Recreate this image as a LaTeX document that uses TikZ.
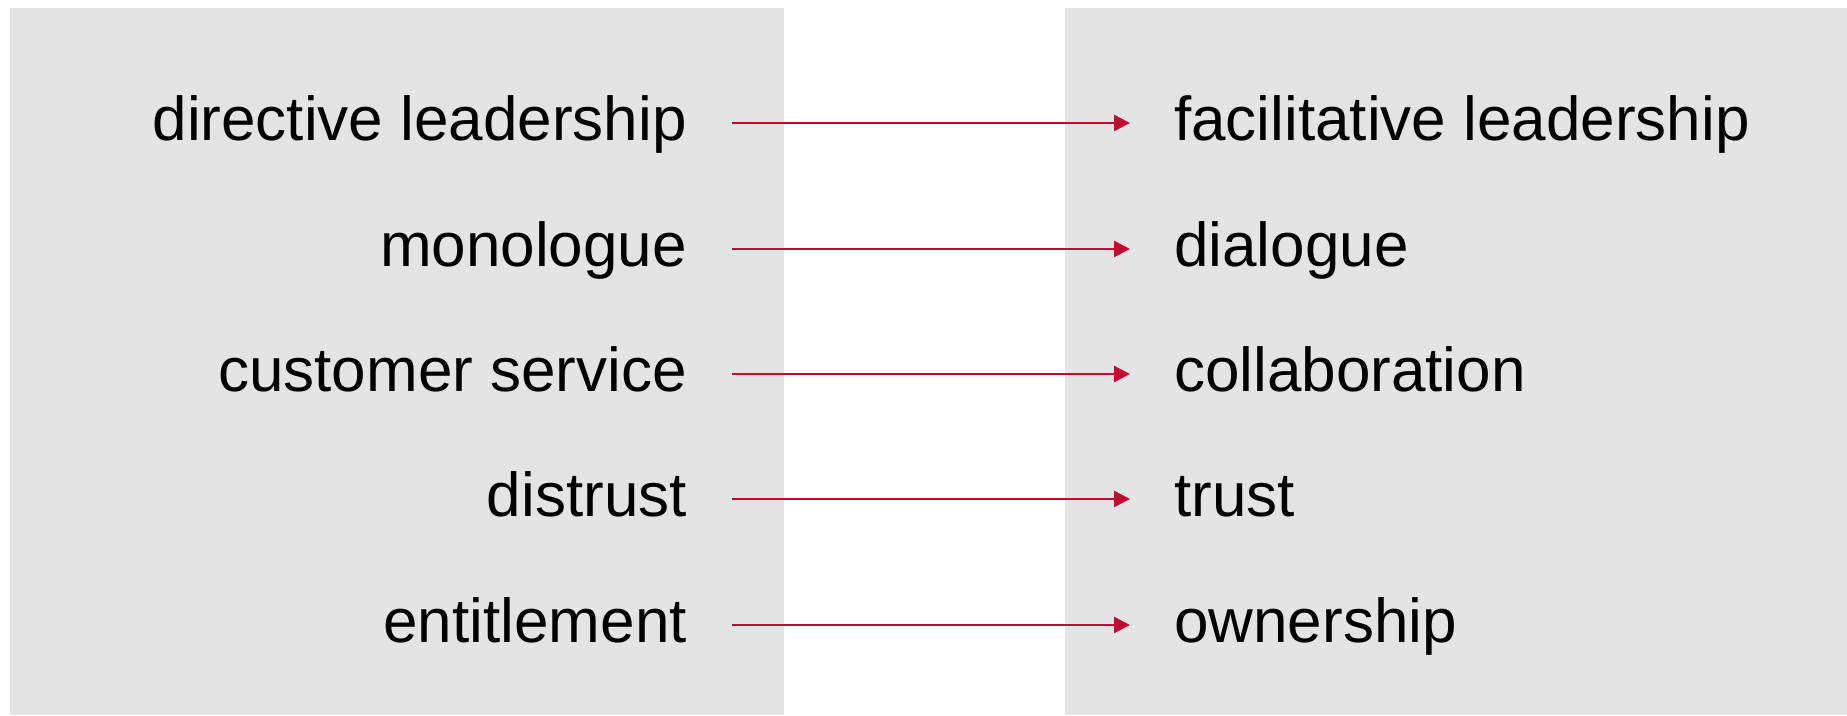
\documentclass[tikz,border=0pt]{standalone}
\usepackage{fontspec}
\setmainfont{Liberation Sans}
\usetikzlibrary{arrows.meta}
\definecolor{panelgrey}{HTML}{E4E4E4}
\definecolor{arrowred}{HTML}{C00A30}
\begin{document}
\begin{tikzpicture}[x=1pt,y=-1pt,
  panel/.style={fill=panelgrey,draw=none},
  lefttext/.style={anchor=base east,inner sep=0pt,font=\fontsize{62}{62}\selectfont},
  righttext/.style={anchor=base west,inner sep=0pt,font=\fontsize{62}{62}\selectfont},
  shiftarrow/.style={draw=arrowred,line width=2.4pt,-{Triangle[length=16pt,width=16pt]}}]
\useasboundingbox (0,0) rectangle (1847,715);
\fill[panelgrey] (10,8) rectangle (784,715);
\fill[panelgrey] (1065,8) rectangle (1847,715);
\foreach \i/\y/\l/\r in {1/123/directive leadership/facilitative leadership,
                         2/249/monologue/dialogue,
                         3/374/customer service/collaboration,
                         4/499/distrust/trust,
                         5/625/entitlement/ownership}{
  \node[lefttext] (l\i) at (687,\y+17) {\l};
  \node[righttext] (r\i) at (1174,\y+17) {\r};
  \coordinate (s\i) at (732,\y);
  \coordinate (e\i) at (1130,\y);
  \draw[shiftarrow] (s\i) -- (e\i);
}
\end{tikzpicture}
\end{document}
